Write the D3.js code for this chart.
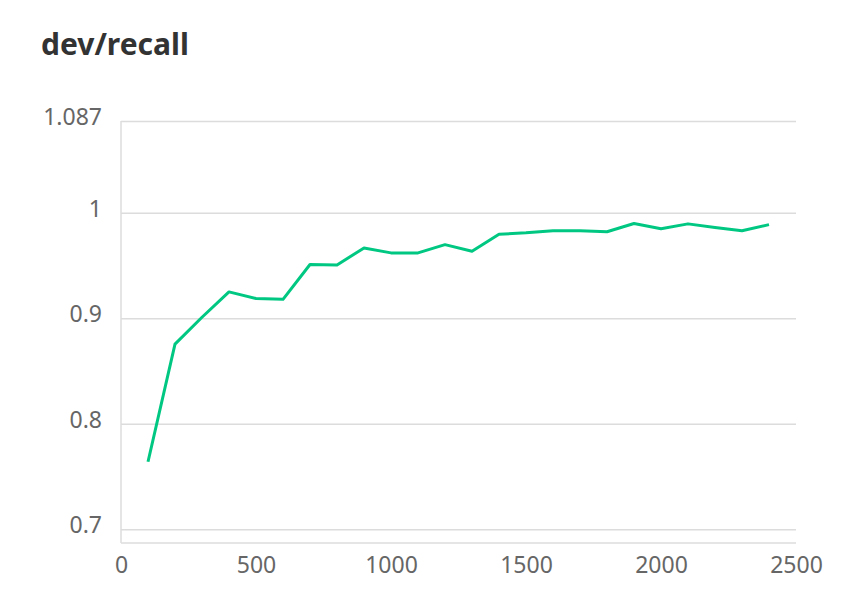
<!DOCTYPE html>
<html>
<head>
<meta charset="utf-8">
<script src="https://d3js.org/d3.v7.min.js"></script>
<style>
    body { margin: 0; background: #fff; }
    .title { font-family: "Noto Sans", sans-serif; font-weight: bold; font-size: 30px; fill: #333; }
    .axis text { font-family: "Noto Sans", sans-serif; font-size: 23px; fill: #666; }
    .axis path, .axis line { stroke: #dcdcdc; stroke-width: 1.5; }
</style>
</head>
<body>
<svg width="856" height="602"></svg>
<script>
    // chart values
    const steps = [100, 200, 300, 400, 500, 600, 700, 800, 900, 1000, 1100, 1200,
        1300, 1400, 1500, 1600, 1700, 1800, 1900, 2000, 2100, 2200, 2300, 2400];
    const recall = [0.764, 0.8755, 0.901, 0.925, 0.9187, 0.918, 0.951, 0.9505, 0.9667, 0.962, 0.962, 0.9698,
        0.9635, 0.9797, 0.981, 0.9829, 0.9829, 0.982, 0.9898, 0.9848, 0.9895, 0.986, 0.983, 0.9888];
    const yTicks = [0.7, 0.8, 0.9, 1, 1.087];
    const xTicks = [0, 500, 1000, 1500, 2000, 2500];

    const svg = d3.select('svg');
    const mLeft = 121, mRight = 796, mTop = 121, mBottom = 543;

    const x = d3.scaleLinear().domain([0, 2500]).range([mLeft, mRight]);
    const y = d3.scaleLinear().domain([0.687, 1.087]).range([mBottom, mTop]);

    svg.append('text')
        .attr('class', 'title')
        .attr('x', 41)
        .attr('y', 55)
        .text('dev/recall');

    // y axis with gridlines
    const gy = svg.append('g')
        .attr('class', 'axis')
        .attr('transform', `translate(${mLeft},0)`)
        .call(d3.axisLeft(y).tickValues(yTicks).tickSize(-(mRight - mLeft)).tickPadding(19)
            .tickFormat(d => String(d)));
    gy.select('.domain').remove();
    gy.selectAll('text').attr('dy', '0.15em');

    svg.append('line')
        .attr('x1', mLeft).attr('x2', mLeft)
        .attr('y1', mTop).attr('y2', mBottom)
        .attr('stroke', '#dcdcdc').attr('stroke-width', 1.5);

    // x axis
    const gx = svg.append('g')
        .attr('class', 'axis')
        .attr('transform', `translate(0,${mBottom})`)
        .call(d3.axisBottom(x).tickValues(xTicks).tickSize(0).tickPadding(14).tickFormat(d3.format('d')));
    gx.select('.domain').attr('d', `M${mLeft},0H${mRight}`);

    const line = d3.line()
        .x((d, i) => x(steps[i]))
        .y(d => y(d));

    svg.append('path')
        .datum(recall)
        .attr('fill', 'none')
        .attr('stroke', '#00c882')
        .attr('stroke-width', 3)
        .attr('stroke-linejoin', 'round')
        .attr('d', line);
</script>
</body>
</html>
